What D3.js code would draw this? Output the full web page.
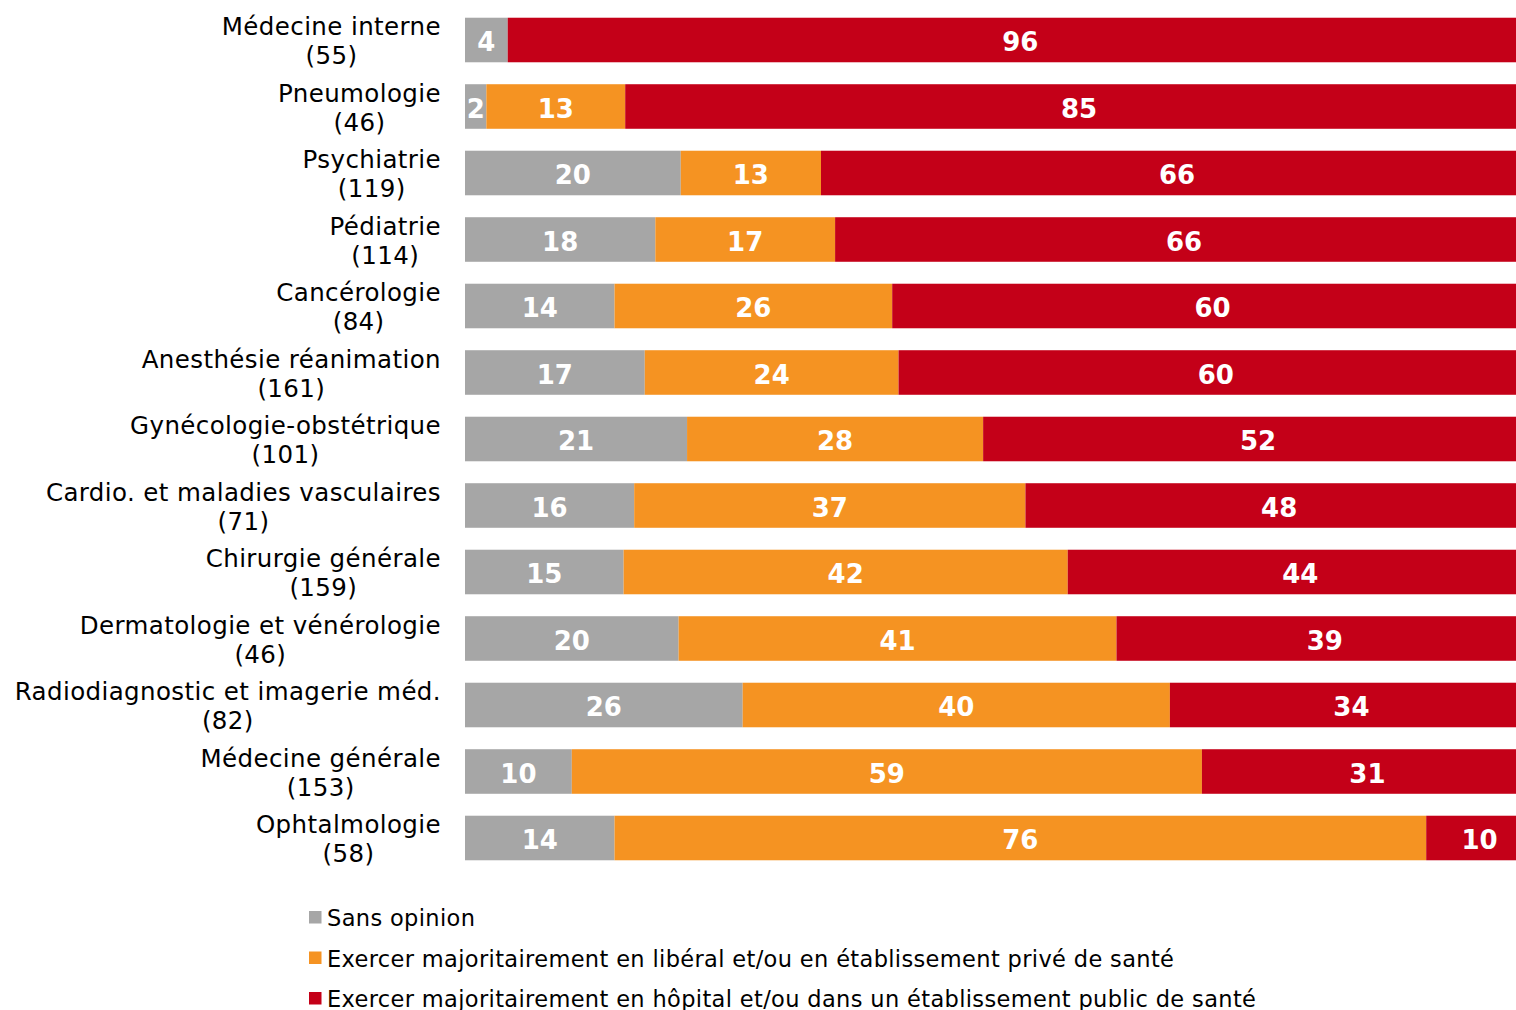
<!DOCTYPE html>
<html><head><meta charset="utf-8">
<script src="https://cdn.jsdelivr.net/npm/d3@7"></script>
<style>body{margin:0;background:#fff}svg{display:block}</style>
</head><body>
<svg id="chart" width="1516" height="1010"></svg>
<script>
const categories = ["Médecine interne","Pneumologie","Psychiatrie","Pédiatrie","Cancérologie","Anesthésie réanimation","Gynécologie-obstétrique","Cardio. et maladies vasculaires","Chirurgie générale","Dermatologie et vénérologie","Radiodiagnostic et imagerie méd.","Médecine générale","Ophtalmologie"];
const counts = [55,46,119,114,84,161,101,71,159,46,82,153,58];
const sansOpinion = [4,2,20,18,14,17,21,16,15,20,26,10,14];
const liberal = [0,13,13,17,26,24,28,37,42,41,40,59,76];
const hopital = [96,85,66,66,60,60,52,48,44,39,34,31,10];
const seriesNames = ["Sans opinion","Exercer majoritairement en libéral et/ou en établissement privé de santé","Exercer majoritairement en hôpital et/ou dans un établissement public de santé"];
const colors = ["#A6A6A6","#F59322","#C40018"];

const svg = d3.select("#chart");
const font = "DejaVu Sans, Verdana, sans-serif";
const keys = ["s","l","h"];
const rows = categories.map((c,i)=>({cat:c, s:sansOpinion[i], l:liberal[i], h:hopital[i]}));
const stack = d3.stack().keys(keys).offset(d3.stackOffsetExpand)(rows);

// plot area runs slightly past the right edge of the picture (clipped)
const x = d3.scaleLinear().domain([0,1]).range([465,1533]);
const y = d3.scaleBand().domain(categories).range([6.75,871.25]).paddingInner(0.33).paddingOuter(0.165);

const g = svg.append("g");
stack.forEach((layer,k)=>{
  const lg = g.append("g");
  lg.selectAll("rect").data(layer).join("rect")
    .attr("x",d=>x(d[0])).attr("width",d=>x(d[1])-x(d[0]))
    .attr("y",d=>y(d.data.cat)).attr("height",y.bandwidth())
    .attr("fill",colors[k]);
  lg.selectAll("text").data(layer.filter(d=>d.data[keys[k]]>0)).join("text")
    .attr("x",d=>(x(d[0])+x(d[1]))/2)
    .attr("y",d=>y(d.data.cat)+y.bandwidth()/2+11)
    .attr("text-anchor","middle")
    .attr("font-family",font).attr("font-weight","bold").attr("font-size",26)
    .attr("fill","#fff")
    .text(d=>d.data[keys[k]]);
});

// category labels
const lab = svg.append("g");
categories.forEach((c,i)=>{
  const cy = y(c)+y.bandwidth()/2;
  const t = lab.append("text").attr("font-family",font).attr("font-size",24.5)
    .attr("letter-spacing","0.4px").attr("fill","#000");
  t.append("tspan").attr("x",441).attr("y",cy-5).attr("text-anchor","end").text(c);
  t.append("tspan").attr("y",cy+24).attr("text-anchor","middle").text("("+counts[i]+")");
});
lab.selectAll("text").each(function(){
  const ts = d3.select(this).selectAll("tspan").nodes();
  const w = ts[0].getComputedTextLength();
  d3.select(ts[1]).attr("x",441 - w/2);
});

// legend
const leg = svg.append("g");
seriesNames.forEach((n,i)=>{
  const by = 926 + i*40.5;
  leg.append("rect").attr("x",309).attr("y",by-15).attr("width",12.5).attr("height",12.5).attr("fill",colors[i]);
  leg.append("text").attr("x",327).attr("y",by).attr("font-family",font).attr("font-size",22.5)
    .attr("letter-spacing","0.35px").attr("fill","#000").text(n);
});
</script>
</body></html>
